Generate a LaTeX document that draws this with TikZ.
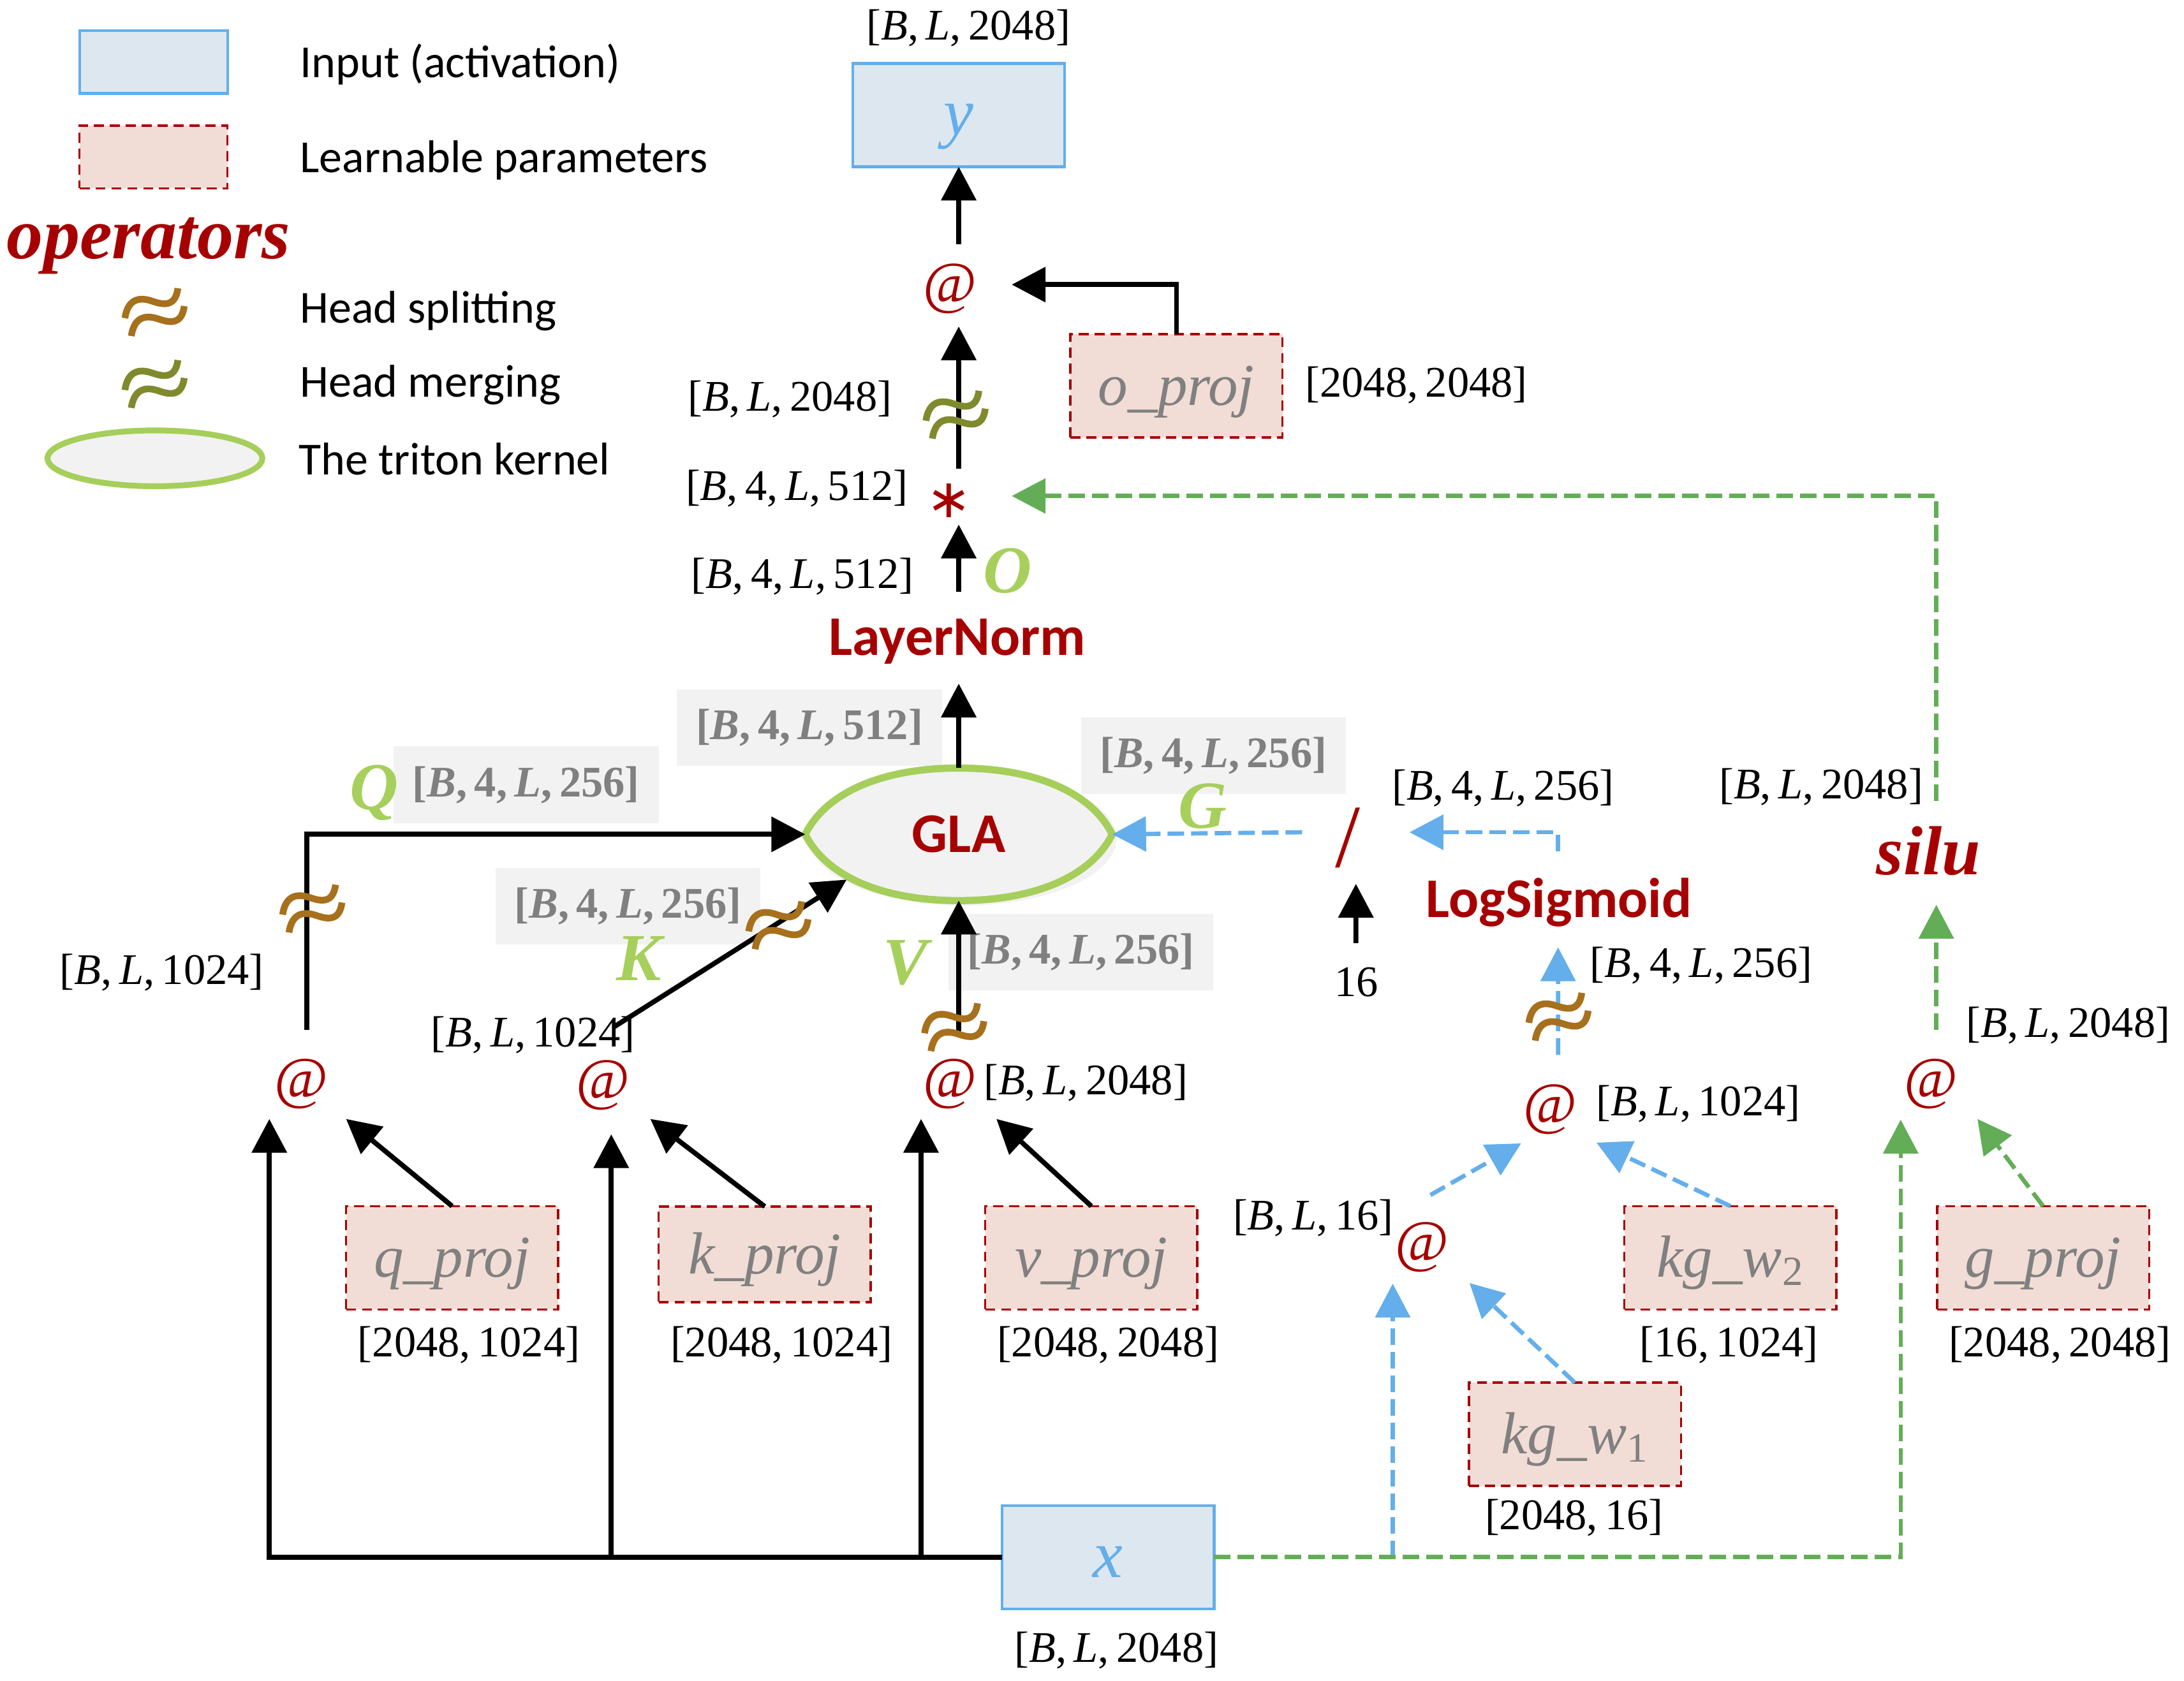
\documentclass[tikz,border=0pt]{standalone}
\usepackage{fontspec}
\newfontfamily\carl{Carlito}
\newfontfamily\lib{Liberation Serif}
\newfontfamily\djv{DejaVu Sans}
\usetikzlibrary{arrows.meta,shapes.geometric,calc}
\definecolor{dred}{RGB}{166,0,0}
\definecolor{qgreen}{RGB}{167,207,92}
\definecolor{kgreen}{RGB}{166,206,90}
\definecolor{kfill}{RGB}{242,242,242}
\definecolor{ablue}{RGB}{100,174,235}
\definecolor{infill}{RGB}{221,231,240}
\definecolor{parfill}{RGB}{241,221,213}
\definecolor{agreen}{RGB}{99,173,86}
\definecolor{hbrown}{RGB}{167,112,29}
\definecolor{holive}{RGB}{128,138,44}
\definecolor{gtext}{RGB}{128,128,128}
\definecolor{gbox}{RGB}{242,242,242}
\def\dpx{0.02188cm}
\newcommand\BL[1]{[\textit{B},\,\textit{L},\,#1]}
\newcommand\BFL[1]{[\textit{B},\,4,\,\textit{L},\,#1]}
\tikzset{
 every node/.style={inner sep=0pt, outer sep=0pt},
 inbox/.style={draw=ablue, fill=infill, line width=1.2pt, minimum width=152*\dpx, minimum height=74*\dpx, text=ablue, text height=0.63cm, text depth=0pt, font=\lib\itshape\fontsize{30}{32}\selectfont},
 parbox/.style={draw=dred, fill=parfill, line width=1pt, dash pattern=on 4.5pt off 2.6pt, minimum width=152*\dpx, minimum height=74*\dpx, text=gtext, text height=0.81cm, text depth=0.2cm, font=\lib\itshape\fontsize{26.5}{28}\selectfont},
 legbox/.style={minimum width=106*\dpx, minimum height=45*\dpx, text height=0pt, text depth=0pt},
 dimlbl/.style={font=\lib\fontsize{19.5}{22}\selectfont},
 graylbl/.style={fill=gbox, text=gtext, minimum width=190*\dpx, minimum height=55*\dpx, font=\lib\bfseries\fontsize{19.5}{22}\selectfont},
 varlbl/.style={text=qgreen, font=\lib\bfseries\itshape\fontsize{30}{31}\selectfont},
 oplbl/.style={text=dred, font=\carl\bfseries\fontsize{25}{28}\selectfont},
 atlbl/.style={text=dred, font=\lib\fontsize{26}{28}\selectfont},
 legtxt/.style={anchor=west, font=\carl\fontsize{20.5}{24}\selectfont},
 arr/.style={line width=2.2pt, -{Triangle[width=0.54cm,length=0.53cm]}},
 dasharr/.style={arr, line width=1.9pt, dash pattern=on 0.26cm off 0.11cm},
 bluearr/.style={dasharr, color=ablue},
 greenarr/.style={dasharr, color=agreen},
 approx/.pic={
   \foreach \s in {1,-1}{
     \begin{scope}[shift={(-0.05*\s cm,0.14*\s cm)}]
       \draw[line width=3pt, pic actions]
         (-0.42cm,-0.24cm) .. controls (-0.37cm,0.10cm) and (-0.15cm,0.08cm) .. (0cm,0.03cm)
         .. controls (0.15cm,-0.02cm) and (0.37cm,-0.09cm) .. (0.41cm,0.23cm);
     \end{scope}
   }
 }
}
\begin{document}
\begin{tikzpicture}[x=\dpx, y=-\dpx]
\useasboundingbox (0,0) rectangle (1565,1204.8);

% ---------- legend ----------
\node[inbox, legbox] (legin) at (110,44.5) {};
\node[legtxt] (legint) at (215,46) {Input (activation)};
\node[parbox, legbox] (legpar) at (110,112.5) {};
\node[legtxt] (legpart) at (215,115) {Learnable parameters};
\node[anchor=base west, text=dred, font=\lib\bfseries\itshape\fontsize{32.5}{34}\selectfont] (legops) at (5,185.5) {operators};
\pic[draw=hbrown] at (111,223.5) {approx};
\node[legtxt] (legsplit) at (215,223) {Head splitting};
\pic[draw=holive] at (111,275) {approx};
\node[legtxt] (legmerge) at (215,276) {Head merging};
\node[draw=kgreen, fill=kfill, ellipse, line width=2.6pt, minimum width=154*\dpx, minimum height=40*\dpx] (legker) at (111,328.5) {};
\node[legtxt] (legkert) at (214,329) {The triton kernel};

% ---------- gray shape labels ----------
\node[graylbl] (g512) at (580,521.5) {\BFL{512}};
\node[graylbl] (gq) at (377,562.5) {\BFL{256}};
\node[graylbl] (gk) at (450,649.5) {\BFL{256}};
\node[graylbl] (gv) at (774.5,682.5) {\BFL{256}};
\node[graylbl] (gg) at (869.5,541.5) {\BFL{256}};

% ---------- GLA kernel ----------
\node[ellipse, minimum width=220*\dpx, minimum height=95*\dpx] (gla) at (687,598) {};
\fill[kfill] ($(gla)+(3,3)$) ellipse [x radius=110*\dpx, y radius=48*\dpx];
\draw[kgreen, line width=3.2pt] (gla.west)
  .. controls ($(gla.west)+(15,-30)$) and ($(gla.north)+(-55,0)$) .. (gla.north)
  .. controls ($(gla.north)+(55,0)$) and ($(gla.east)+(-15,-30)$) .. (gla.east)
  .. controls ($(gla.east)+(-15,30)$) and ($(gla.south)+(55,0)$) .. (gla.south)
  .. controls ($(gla.south)+(-55,0)$) and ($(gla.west)+(15,30)$) .. cycle;
\node[oplbl] (glat) at (687,598) {GLA};

% ---------- boxes ----------
\node[inbox] (ybox) at (687,82.5) {y};
\node[inbox] (xbox) at (794,1116) {x};
\node[parbox] (oproj) at (843,276.5) {o\_proj};
\node[parbox] (qproj) at (324,901.5) {q\_proj};
\node[parbox, minimum height=68.5*\dpx] (kproj) at (548,899) {k\_proj};
\node[parbox] (vproj) at (782,901.5) {v\_proj};
\node[parbox] (kgw2) at (1240,901.5) {kg\_w{\upshape\textsubscript{2}}};
\node[parbox] (kgw1) at (1128.5,1028) {kg\_w{\upshape\textsubscript{1}}};
\node[parbox] (gproj) at (1464,901.5) {g\_proj};

% ---------- operators ----------
\node[atlbl] (attop) at (681,207) {@};
\node[text=dred, font=\djv\fontsize{24}{26}\selectfont] (star) at (680,359) {∗};
\node[oplbl] (ln) at (686,460) {LayerNorm};
\node[text=dred, font=\lib\fontsize{40}{42}\selectfont] (slash) at (966,600.5) {/};
\node[oplbl] (logsig) at (1117,647) {LogSigmoid};
\node[text=dred, font=\lib\bfseries\itshape\fontsize{31}{34}\selectfont] (silu) at (1382,610) {silu};
\node[atlbl] (atq) at (216,777) {@};
\node[atlbl] (atk) at (432,778) {@};
\node[atlbl] (atv) at (681,777) {@};
\node[atlbl] (atg2) at (1111,795) {@};
\node[atlbl] (atg1) at (1019,894) {@};
\node[atlbl] (ats) at (1384,777) {@};

% ---------- variable letters ----------
\node[varlbl] (ovar) at (722,409) {O};
\node[varlbl] (qvar) at (268,568) {Q};
\node[varlbl] (kvar) at (458,687) {K};
\node[varlbl] (vvar) at (649,690) {V};
\node[varlbl] (gvar) at (862,578) {G};

% ---------- shape labels ----------
\node[dimlbl] (ydim) at (694,20) {\BL{2048}};
\node[dimlbl] (odim) at (1015,276) {[2048,\,2048]};
\node[dimlbl] (d1) at (566,286) {\BL{2048}};
\node[dimlbl] (d2) at (571,350) {\BFL{512}};
\node[dimlbl] (d3) at (575,413) {\BFL{512}};
\node[dimlbl] (dq) at (116,697) {\BL{1024}};
\node[dimlbl] (dk) at (382,742) {\BL{1024}};
\node[dimlbl] (dv) at (778,776) {\BL{2048}};
\node[dimlbl] (dsl) at (1077,565) {\BFL{256}};
\node[dimlbl] (sixteen) at (972,704) {16};
\node[dimlbl] (dls) at (1219,692) {\BFL{256}};
\node[dimlbl] (dg2) at (1217,791) {\BL{1024}};
\node[dimlbl] (dg1) at (941,873) {\BL{16}};
\node[dimlbl] (dsilu1) at (1305,564) {\BL{2048}};
\node[dimlbl] (dsilu2) at (1482,735) {\BL{2048}};
\node[dimlbl] (dqproj) at (336,964) {[2048,\,1024]};
\node[dimlbl] (dkproj) at (560,964) {[2048,\,1024]};
\node[dimlbl] (dvproj) at (794,964) {[2048,\,2048]};
\node[dimlbl] (dkgw2) at (1239,964) {[16,\,1024]};
\node[dimlbl] (dkgw1) at (1128,1088) {[2048,\,16]};
\node[dimlbl] (dgproj) at (1476,964) {[2048,\,2048]};
\node[dimlbl] (dx) at (800,1183) {\BL{2048}};

% ---------- connectors: output chain ----------
\draw[arr] ($(attop)+(6,-32)$) -- (ybox.south);
\draw[arr] (oproj.north) |- ($(attop)+(44,-3)$);
\draw[arr] ($(star)+(7,-23)$) -- ($(attop)+(6,27)$);
\draw[greenarr] ($(silu)+(5.5,-36)$) |- ($(star)+(45,-3.5)$);
\draw[arr] ($(ln)+(1,-36)$) -- ($(star)+(7,17)$);
\draw[arr] (gla.north) -- ($(ln)+(1,30)$);

% ---------- Q K V G ----------
\draw[arr] ($(atq)+(4,-39)$) |- (gla.west);
\draw[arr] ($(atk)+(8,-42)$) -- (gla.202);
\draw[arr] ($(atv)+(6,-38)$) -- (gla.south);
\draw[bluearr] ($(slash)+(-33,-4)$) -- (gla.east);
\draw[bluearr] ($(logsig)+(-0.5,-37)$) |- ($(slash)+(44,-4)$);
\draw[arr] ($(sixteen)+(-0.4,-28)$) -- ($(slash)+(5.6,33)$);
\draw[bluearr] ($(atg2)+(5.5,-39)$) -- ($(logsig)+(-0.5,32)$);
\draw[bluearr] ($(atg1)+(6,-37.5)$) -- ($(atg2)+(-21,24.5)$);
\draw[bluearr] (kgw2.north) -- ($(atg2)+(33,24)$);
\draw[bluearr] (kgw1.north) -- ($(atg1)+(34,25.6)$);
\coordinate (g1in) at ($(atg1)+(-21,26)$);
\draw[bluearr] (g1in |- xbox.east) -- (g1in);

% ---------- silu branch ----------
\draw[greenarr] ($(ats)+(3.5,-39)$) -- ($(silu)+(5.5,38.5)$);
\draw[greenarr] (xbox.east) -| ($(ats)+(-22,25.5)$);
\draw[greenarr] (gproj.north) -- ($(ats)+(33,25)$);

% ---------- input projections ----------
\draw[arr] (xbox.west) -| ($(atq)+(-23,25)$);
\draw[arr] (xbox.west) -| ($(atk)+(6,35)$);
\draw[arr] (xbox.west) -| ($(atv)+(-21,25)$);
\draw[arr] (qproj.north) -- ($(atq)+(32,25)$);
\draw[arr] (kproj.north) -- ($(atk)+(34,24)$);
\draw[arr] (vproj.north) -- ($(atv)+(33,25)$);

% ---------- head split / merge marks ----------
\pic[draw=holive] at (685,297) {approx};
\pic[draw=hbrown] at (224,651) {approx};
\pic[draw=hbrown] at (558,663) {approx};
\pic[draw=hbrown] at (684,736) {approx};
\pic[draw=hbrown] at (1117,728.5) {approx};
\end{tikzpicture}
\end{document}
